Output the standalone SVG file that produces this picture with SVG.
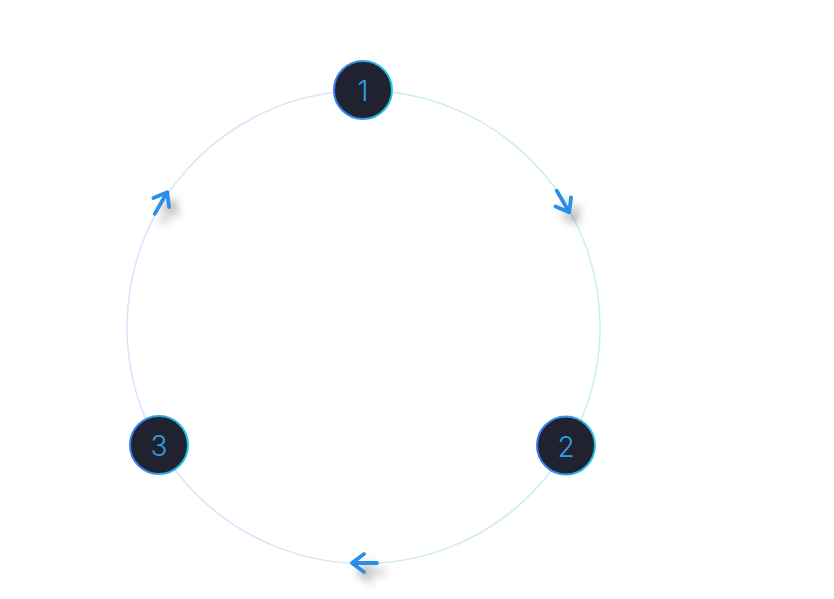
<svg xmlns="http://www.w3.org/2000/svg" width="834" height="599" viewBox="0 0 834 599">
  <defs>
    <linearGradient id="ringGrad" x1="0" y1="0" x2="1" y2="0">
      <stop offset="0" stop-color="#d8e2fb"/>
      <stop offset="1" stop-color="#c8eef4"/>
    </linearGradient>
    <linearGradient id="nodeStroke" x1="0" y1="0" x2="1" y2="0">
      <stop offset="0" stop-color="#3a78f0"/>
      <stop offset="1" stop-color="#25c9e2"/>
    </linearGradient>
    <filter id="shadow" x="-100%" y="-100%" width="300%" height="300%">
      <feDropShadow dx="7" dy="9" stdDeviation="4.5" flood-color="#000" flood-opacity="0.32"/>
    </filter>
    <path id="arrow" d="M12.5,0 L-12.5,0 M-0.5,-9 L-12.5,0 L-0.5,9"/>
  </defs>
  <style>
    .ring { fill: none; stroke: url(#ringGrad); stroke-width: 1.5; }
    .node circle { fill: #20232f; stroke: url(#nodeStroke); stroke-width: 2; }
    .node text { font-family: Inter, "Liberation Sans", sans-serif; font-weight: 300; font-size: 28px; fill: #2e9ee6; text-anchor: middle; dominant-baseline: central; }
    .arr { filter: url(#shadow); }
    .arr use { fill: none; stroke: #2a8ee9; stroke-width: 3.8; stroke-linecap: round; stroke-linejoin: round; }
  </style>
  <rect width="834" height="599" fill="#ffffff"/>
  <g id="connectors">
    <circle class="ring" cx="363.5" cy="327" r="236.5"/>
    <g class="arr"><use href="#arrow" transform="translate(563 201.5) rotate(-120)"/></g>
    <g class="arr"><use href="#arrow" transform="translate(364.5 563)"/></g>
    <g class="arr"><use href="#arrow" transform="translate(161 203) rotate(120)"/></g>
  </g>
  <g id="node1" class="node">
    <circle cx="363" cy="90" r="29"/>
    <text x="363" y="91">1</text>
  </g>
  <g id="node2" class="node">
    <circle cx="566" cy="445.5" r="29"/>
    <text x="566" y="446.5">2</text>
  </g>
  <g id="node3" class="node">
    <circle cx="159" cy="445" r="29"/>
    <text x="159" y="446">3</text>
  </g>
</svg>
